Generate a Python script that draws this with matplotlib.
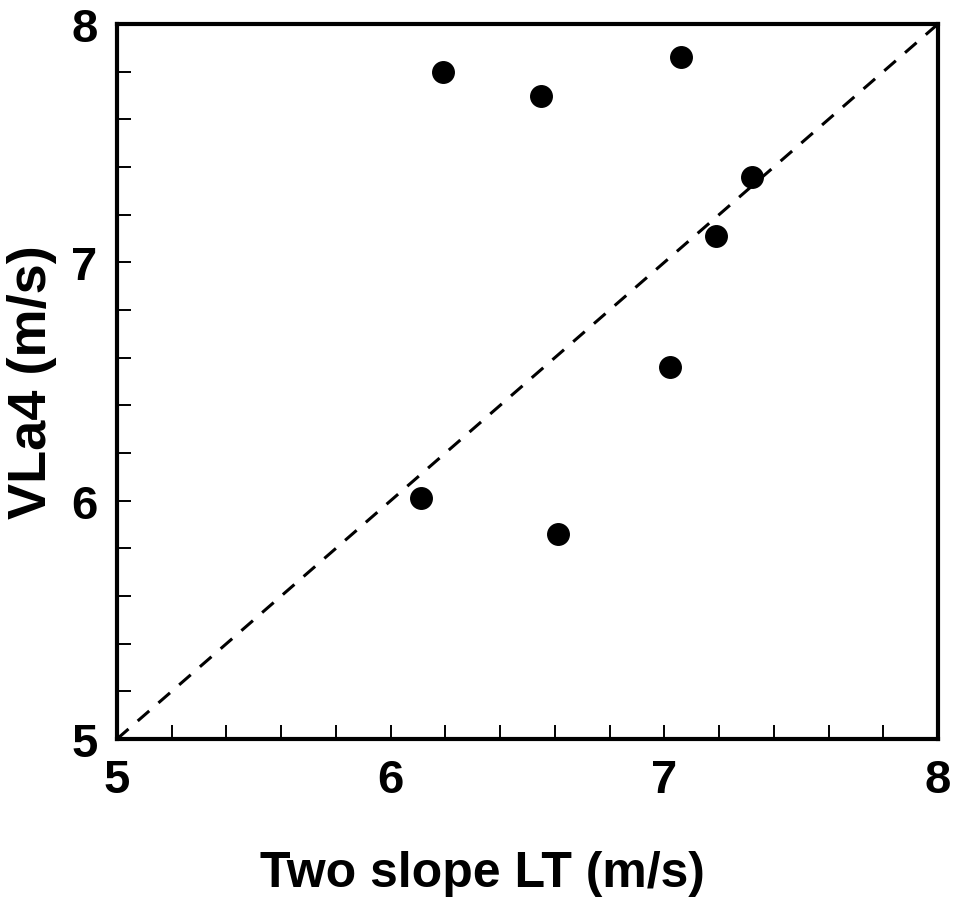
import matplotlib.pyplot as plt
from matplotlib.ticker import MultipleLocator

plt.rcParams['font.family'] = ['Liberation Sans', 'DejaVu Sans']
plt.rcParams['font.weight'] = 'bold'

# two slope LT vs VLa4 velocities (m/s)
two_slope_lt = [6.19, 6.55, 7.06, 7.32, 7.19, 7.02, 6.11, 6.61]
vla4 = [7.80, 7.70, 7.86, 7.36, 7.11, 6.56, 6.01, 5.86]
identity = [5, 8]

fig = plt.figure(figsize=(9.58, 9.03), dpi=100)
ax = fig.add_axes([0.1221, 0.1805, 0.857, 0.7918])

ax.plot(identity, identity, color='black', lw=2.2, linestyle=(0, (5, 4)))
ax.plot(two_slope_lt, vla4, 'o', color='black', markersize=15.5)

ax.set_xlim(5, 8)
ax.set_ylim(5, 8)
ax.xaxis.set_major_locator(MultipleLocator(1))
ax.yaxis.set_major_locator(MultipleLocator(1))
ax.xaxis.set_minor_locator(MultipleLocator(0.2))
ax.yaxis.set_minor_locator(MultipleLocator(0.2))
ax.tick_params(which='both', direction='in', length=10, width=1.4,
               top=False, right=False)
ax.tick_params(axis='both', which='major', labelsize=34, pad=14)

for sp in ax.spines.values():
    sp.set_linewidth(3)

ax.set_xlabel('Two slope LT (m/s)', fontsize=36, fontweight='bold')
ax.set_ylabel('VLa4 (m/s)', fontsize=39, fontweight='bold')
ax.xaxis.set_label_coords(0.445, -0.155)
ax.yaxis.set_label_coords(-0.073, 0.5)

fig.savefig('out.png', dpi=100)
